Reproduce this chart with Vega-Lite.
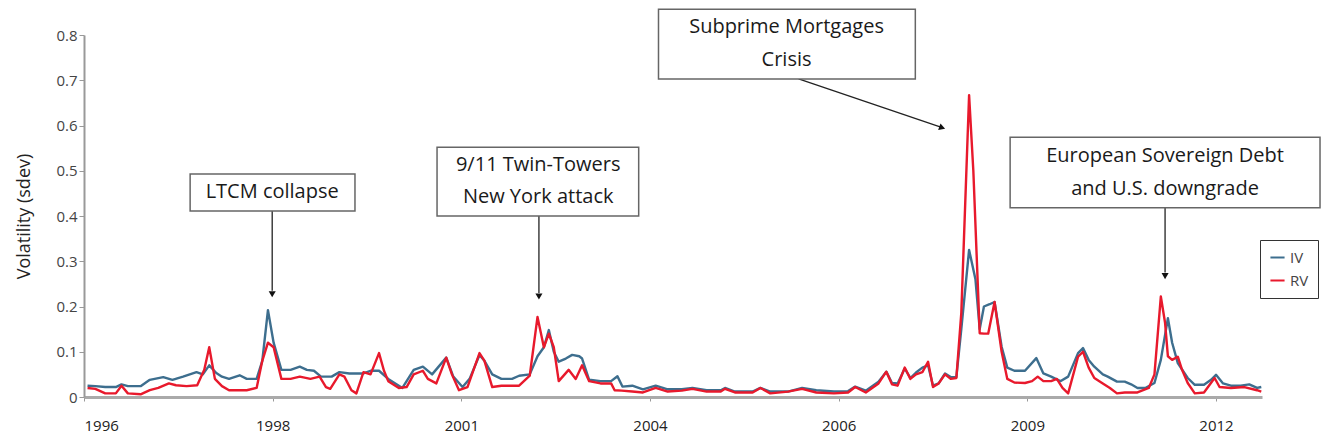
{
  "$schema": "https://vega.github.io/schema/vega-lite/v6.json",
  "width": 1178,
  "height": 362,
  "autosize": "none",
  "padding": {"left": 84, "top": 35, "right": 68, "bottom": 49},
  "background": "white",
  "config": {
    "view": {"stroke": null},
    "font": "Open Sans",
    "axis": {"grid": false, "labelFont": "Open Sans", "titleFont": "Open Sans"}
  },
  "datasets": {
    "vol": [
      {"x": 1996.05, "s": "IV", "y": 0.025}, {"x": 1996.16, "s": "IV", "y": 0.024}, {"x": 1996.30, "s": "IV", "y": 0.022}, {"x": 1996.45, "s": "IV", "y": 0.022}, {"x": 1996.53, "s": "IV", "y": 0.028}, {"x": 1996.62, "s": "IV", "y": 0.024}, {"x": 1996.80, "s": "IV", "y": 0.024}, {"x": 1996.93, "s": "IV", "y": 0.038}, {"x": 1997.12, "s": "IV", "y": 0.044}, {"x": 1997.25, "s": "IV", "y": 0.038}, {"x": 1997.40, "s": "IV", "y": 0.045}, {"x": 1997.59, "s": "IV", "y": 0.055}, {"x": 1997.68, "s": "IV", "y": 0.050}, {"x": 1997.77, "s": "IV", "y": 0.070}, {"x": 1997.87, "s": "IV", "y": 0.053}, {"x": 1997.95, "s": "IV", "y": 0.045}, {"x": 1998.05, "s": "IV", "y": 0.040}, {"x": 1998.20, "s": "IV", "y": 0.048}, {"x": 1998.30, "s": "IV", "y": 0.040}, {"x": 1998.44, "s": "IV", "y": 0.040}, {"x": 1998.52, "s": "IV", "y": 0.080}, {"x": 1998.60, "s": "IV", "y": 0.192}, {"x": 1998.68, "s": "IV", "y": 0.120}, {"x": 1998.79, "s": "IV", "y": 0.060}, {"x": 1998.92, "s": "IV", "y": 0.060}, {"x": 1999.05, "s": "IV", "y": 0.067}, {"x": 1999.15, "s": "IV", "y": 0.060}, {"x": 1999.25, "s": "IV", "y": 0.058}, {"x": 1999.35, "s": "IV", "y": 0.045}, {"x": 1999.50, "s": "IV", "y": 0.045}, {"x": 1999.61, "s": "IV", "y": 0.055}, {"x": 1999.75, "s": "IV", "y": 0.052}, {"x": 1999.95, "s": "IV", "y": 0.052}, {"x": 2000.05, "s": "IV", "y": 0.058}, {"x": 2000.17, "s": "IV", "y": 0.058}, {"x": 2000.30, "s": "IV", "y": 0.040}, {"x": 2000.40, "s": "IV", "y": 0.030}, {"x": 2000.50, "s": "IV", "y": 0.020}, {"x": 2000.66, "s": "IV", "y": 0.060}, {"x": 2000.79, "s": "IV", "y": 0.067}, {"x": 2000.92, "s": "IV", "y": 0.050}, {"x": 2001.12, "s": "IV", "y": 0.087}, {"x": 2001.22, "s": "IV", "y": 0.045}, {"x": 2001.35, "s": "IV", "y": 0.022}, {"x": 2001.45, "s": "IV", "y": 0.040}, {"x": 2001.59, "s": "IV", "y": 0.093}, {"x": 2001.66, "s": "IV", "y": 0.080}, {"x": 2001.77, "s": "IV", "y": 0.050}, {"x": 2001.90, "s": "IV", "y": 0.040}, {"x": 2002.05, "s": "IV", "y": 0.040}, {"x": 2002.15, "s": "IV", "y": 0.047}, {"x": 2002.30, "s": "IV", "y": 0.050}, {"x": 2002.41, "s": "IV", "y": 0.090}, {"x": 2002.50, "s": "IV", "y": 0.110}, {"x": 2002.57, "s": "IV", "y": 0.148}, {"x": 2002.64, "s": "IV", "y": 0.100}, {"x": 2002.71, "s": "IV", "y": 0.078}, {"x": 2002.81, "s": "IV", "y": 0.085}, {"x": 2002.90, "s": "IV", "y": 0.093}, {"x": 2003.00, "s": "IV", "y": 0.090}, {"x": 2003.04, "s": "IV", "y": 0.085}, {"x": 2003.14, "s": "IV", "y": 0.038}, {"x": 2003.30, "s": "IV", "y": 0.035}, {"x": 2003.45, "s": "IV", "y": 0.035}, {"x": 2003.54, "s": "IV", "y": 0.046}, {"x": 2003.61, "s": "IV", "y": 0.023}, {"x": 2003.75, "s": "IV", "y": 0.025}, {"x": 2003.90, "s": "IV", "y": 0.017}, {"x": 2004.08, "s": "IV", "y": 0.025}, {"x": 2004.25, "s": "IV", "y": 0.017}, {"x": 2004.45, "s": "IV", "y": 0.017}, {"x": 2004.60, "s": "IV", "y": 0.020}, {"x": 2004.80, "s": "IV", "y": 0.015}, {"x": 2005.00, "s": "IV", "y": 0.015}, {"x": 2005.06, "s": "IV", "y": 0.020}, {"x": 2005.20, "s": "IV", "y": 0.012}, {"x": 2005.45, "s": "IV", "y": 0.012}, {"x": 2005.56, "s": "IV", "y": 0.020}, {"x": 2005.70, "s": "IV", "y": 0.012}, {"x": 2005.95, "s": "IV", "y": 0.012}, {"x": 2006.15, "s": "IV", "y": 0.020}, {"x": 2006.35, "s": "IV", "y": 0.015}, {"x": 2006.60, "s": "IV", "y": 0.012}, {"x": 2006.80, "s": "IV", "y": 0.013}, {"x": 2006.90, "s": "IV", "y": 0.023}, {"x": 2007.05, "s": "IV", "y": 0.014}, {"x": 2007.23, "s": "IV", "y": 0.034}, {"x": 2007.34, "s": "IV", "y": 0.056}, {"x": 2007.42, "s": "IV", "y": 0.031}, {"x": 2007.50, "s": "IV", "y": 0.030}, {"x": 2007.60, "s": "IV", "y": 0.063}, {"x": 2007.68, "s": "IV", "y": 0.042}, {"x": 2007.76, "s": "IV", "y": 0.054}, {"x": 2007.85, "s": "IV", "y": 0.065}, {"x": 2007.93, "s": "IV", "y": 0.070}, {"x": 2008.00, "s": "IV", "y": 0.025}, {"x": 2008.08, "s": "IV", "y": 0.030}, {"x": 2008.17, "s": "IV", "y": 0.052}, {"x": 2008.25, "s": "IV", "y": 0.044}, {"x": 2008.33, "s": "IV", "y": 0.044}, {"x": 2008.40, "s": "IV", "y": 0.150}, {"x": 2008.51, "s": "IV", "y": 0.325}, {"x": 2008.60, "s": "IV", "y": 0.260}, {"x": 2008.66, "s": "IV", "y": 0.150}, {"x": 2008.72, "s": "IV", "y": 0.200}, {"x": 2008.80, "s": "IV", "y": 0.205}, {"x": 2008.87, "s": "IV", "y": 0.210}, {"x": 2008.97, "s": "IV", "y": 0.111}, {"x": 2009.05, "s": "IV", "y": 0.065}, {"x": 2009.15, "s": "IV", "y": 0.058}, {"x": 2009.30, "s": "IV", "y": 0.058}, {"x": 2009.46, "s": "IV", "y": 0.086}, {"x": 2009.56, "s": "IV", "y": 0.052}, {"x": 2009.67, "s": "IV", "y": 0.045}, {"x": 2009.80, "s": "IV", "y": 0.035}, {"x": 2009.91, "s": "IV", "y": 0.045}, {"x": 2010.05, "s": "IV", "y": 0.097}, {"x": 2010.12, "s": "IV", "y": 0.108}, {"x": 2010.20, "s": "IV", "y": 0.082}, {"x": 2010.28, "s": "IV", "y": 0.067}, {"x": 2010.40, "s": "IV", "y": 0.050}, {"x": 2010.47, "s": "IV", "y": 0.045}, {"x": 2010.60, "s": "IV", "y": 0.034}, {"x": 2010.71, "s": "IV", "y": 0.034}, {"x": 2010.80, "s": "IV", "y": 0.028}, {"x": 2010.89, "s": "IV", "y": 0.020}, {"x": 2011.00, "s": "IV", "y": 0.020}, {"x": 2011.13, "s": "IV", "y": 0.031}, {"x": 2011.22, "s": "IV", "y": 0.082}, {"x": 2011.32, "s": "IV", "y": 0.174}, {"x": 2011.38, "s": "IV", "y": 0.120}, {"x": 2011.46, "s": "IV", "y": 0.075}, {"x": 2011.60, "s": "IV", "y": 0.042}, {"x": 2011.70, "s": "IV", "y": 0.027}, {"x": 2011.83, "s": "IV", "y": 0.027}, {"x": 2011.93, "s": "IV", "y": 0.038}, {"x": 2012.00, "s": "IV", "y": 0.049}, {"x": 2012.10, "s": "IV", "y": 0.030}, {"x": 2012.21, "s": "IV", "y": 0.025}, {"x": 2012.35, "s": "IV", "y": 0.025}, {"x": 2012.47, "s": "IV", "y": 0.028}, {"x": 2012.58, "s": "IV", "y": 0.020}, {"x": 2012.64, "s": "IV", "y": 0.022},
      {"x": 1996.05, "s": "RV", "y": 0.020}, {"x": 1996.16, "s": "RV", "y": 0.018}, {"x": 1996.30, "s": "RV", "y": 0.008}, {"x": 1996.45, "s": "RV", "y": 0.008}, {"x": 1996.53, "s": "RV", "y": 0.025}, {"x": 1996.62, "s": "RV", "y": 0.008}, {"x": 1996.80, "s": "RV", "y": 0.006}, {"x": 1996.93, "s": "RV", "y": 0.015}, {"x": 1997.05, "s": "RV", "y": 0.020}, {"x": 1997.20, "s": "RV", "y": 0.030}, {"x": 1997.30, "s": "RV", "y": 0.026}, {"x": 1997.45, "s": "RV", "y": 0.024}, {"x": 1997.60, "s": "RV", "y": 0.026}, {"x": 1997.70, "s": "RV", "y": 0.060}, {"x": 1997.77, "s": "RV", "y": 0.110}, {"x": 1997.85, "s": "RV", "y": 0.040}, {"x": 1997.95, "s": "RV", "y": 0.024}, {"x": 1998.05, "s": "RV", "y": 0.015}, {"x": 1998.30, "s": "RV", "y": 0.015}, {"x": 1998.44, "s": "RV", "y": 0.020}, {"x": 1998.52, "s": "RV", "y": 0.080}, {"x": 1998.60, "s": "RV", "y": 0.120}, {"x": 1998.68, "s": "RV", "y": 0.110}, {"x": 1998.79, "s": "RV", "y": 0.040}, {"x": 1998.92, "s": "RV", "y": 0.040}, {"x": 1999.05, "s": "RV", "y": 0.045}, {"x": 1999.20, "s": "RV", "y": 0.040}, {"x": 1999.33, "s": "RV", "y": 0.045}, {"x": 1999.42, "s": "RV", "y": 0.022}, {"x": 1999.48, "s": "RV", "y": 0.018}, {"x": 1999.61, "s": "RV", "y": 0.050}, {"x": 1999.68, "s": "RV", "y": 0.045}, {"x": 1999.78, "s": "RV", "y": 0.015}, {"x": 1999.85, "s": "RV", "y": 0.008}, {"x": 1999.95, "s": "RV", "y": 0.055}, {"x": 2000.05, "s": "RV", "y": 0.050}, {"x": 2000.17, "s": "RV", "y": 0.097}, {"x": 2000.24, "s": "RV", "y": 0.058}, {"x": 2000.30, "s": "RV", "y": 0.035}, {"x": 2000.45, "s": "RV", "y": 0.020}, {"x": 2000.56, "s": "RV", "y": 0.022}, {"x": 2000.66, "s": "RV", "y": 0.050}, {"x": 2000.79, "s": "RV", "y": 0.058}, {"x": 2000.86, "s": "RV", "y": 0.040}, {"x": 2000.98, "s": "RV", "y": 0.030}, {"x": 2001.12, "s": "RV", "y": 0.087}, {"x": 2001.20, "s": "RV", "y": 0.050}, {"x": 2001.30, "s": "RV", "y": 0.015}, {"x": 2001.42, "s": "RV", "y": 0.022}, {"x": 2001.59, "s": "RV", "y": 0.097}, {"x": 2001.66, "s": "RV", "y": 0.080}, {"x": 2001.77, "s": "RV", "y": 0.022}, {"x": 2001.90, "s": "RV", "y": 0.025}, {"x": 2002.05, "s": "RV", "y": 0.025}, {"x": 2002.15, "s": "RV", "y": 0.025}, {"x": 2002.30, "s": "RV", "y": 0.047}, {"x": 2002.41, "s": "RV", "y": 0.177}, {"x": 2002.50, "s": "RV", "y": 0.110}, {"x": 2002.57, "s": "RV", "y": 0.140}, {"x": 2002.64, "s": "RV", "y": 0.110}, {"x": 2002.71, "s": "RV", "y": 0.035}, {"x": 2002.85, "s": "RV", "y": 0.060}, {"x": 2002.95, "s": "RV", "y": 0.040}, {"x": 2003.04, "s": "RV", "y": 0.070}, {"x": 2003.14, "s": "RV", "y": 0.035}, {"x": 2003.30, "s": "RV", "y": 0.030}, {"x": 2003.45, "s": "RV", "y": 0.030}, {"x": 2003.50, "s": "RV", "y": 0.015}, {"x": 2003.60, "s": "RV", "y": 0.014}, {"x": 2003.75, "s": "RV", "y": 0.012}, {"x": 2003.90, "s": "RV", "y": 0.010}, {"x": 2004.08, "s": "RV", "y": 0.020}, {"x": 2004.25, "s": "RV", "y": 0.012}, {"x": 2004.45, "s": "RV", "y": 0.014}, {"x": 2004.60, "s": "RV", "y": 0.018}, {"x": 2004.80, "s": "RV", "y": 0.012}, {"x": 2005.00, "s": "RV", "y": 0.012}, {"x": 2005.06, "s": "RV", "y": 0.018}, {"x": 2005.20, "s": "RV", "y": 0.010}, {"x": 2005.45, "s": "RV", "y": 0.010}, {"x": 2005.56, "s": "RV", "y": 0.020}, {"x": 2005.70, "s": "RV", "y": 0.008}, {"x": 2005.95, "s": "RV", "y": 0.012}, {"x": 2006.15, "s": "RV", "y": 0.018}, {"x": 2006.35, "s": "RV", "y": 0.010}, {"x": 2006.60, "s": "RV", "y": 0.008}, {"x": 2006.80, "s": "RV", "y": 0.010}, {"x": 2006.90, "s": "RV", "y": 0.022}, {"x": 2007.05, "s": "RV", "y": 0.010}, {"x": 2007.23, "s": "RV", "y": 0.030}, {"x": 2007.34, "s": "RV", "y": 0.056}, {"x": 2007.42, "s": "RV", "y": 0.028}, {"x": 2007.50, "s": "RV", "y": 0.025}, {"x": 2007.60, "s": "RV", "y": 0.065}, {"x": 2007.68, "s": "RV", "y": 0.040}, {"x": 2007.76, "s": "RV", "y": 0.050}, {"x": 2007.85, "s": "RV", "y": 0.055}, {"x": 2007.93, "s": "RV", "y": 0.078}, {"x": 2008.00, "s": "RV", "y": 0.022}, {"x": 2008.08, "s": "RV", "y": 0.030}, {"x": 2008.17, "s": "RV", "y": 0.050}, {"x": 2008.25, "s": "RV", "y": 0.040}, {"x": 2008.33, "s": "RV", "y": 0.042}, {"x": 2008.40, "s": "RV", "y": 0.186}, {"x": 2008.51, "s": "RV", "y": 0.667}, {"x": 2008.57, "s": "RV", "y": 0.500}, {"x": 2008.66, "s": "RV", "y": 0.141}, {"x": 2008.72, "s": "RV", "y": 0.140}, {"x": 2008.78, "s": "RV", "y": 0.140}, {"x": 2008.87, "s": "RV", "y": 0.210}, {"x": 2008.97, "s": "RV", "y": 0.100}, {"x": 2009.05, "s": "RV", "y": 0.040}, {"x": 2009.15, "s": "RV", "y": 0.032}, {"x": 2009.30, "s": "RV", "y": 0.031}, {"x": 2009.40, "s": "RV", "y": 0.035}, {"x": 2009.48, "s": "RV", "y": 0.045}, {"x": 2009.56, "s": "RV", "y": 0.035}, {"x": 2009.67, "s": "RV", "y": 0.035}, {"x": 2009.75, "s": "RV", "y": 0.040}, {"x": 2009.83, "s": "RV", "y": 0.020}, {"x": 2009.91, "s": "RV", "y": 0.008}, {"x": 2010.00, "s": "RV", "y": 0.060}, {"x": 2010.05, "s": "RV", "y": 0.089}, {"x": 2010.12, "s": "RV", "y": 0.100}, {"x": 2010.20, "s": "RV", "y": 0.065}, {"x": 2010.28, "s": "RV", "y": 0.042}, {"x": 2010.40, "s": "RV", "y": 0.030}, {"x": 2010.50, "s": "RV", "y": 0.020}, {"x": 2010.60, "s": "RV", "y": 0.008}, {"x": 2010.71, "s": "RV", "y": 0.010}, {"x": 2010.89, "s": "RV", "y": 0.010}, {"x": 2011.05, "s": "RV", "y": 0.020}, {"x": 2011.13, "s": "RV", "y": 0.050}, {"x": 2011.22, "s": "RV", "y": 0.222}, {"x": 2011.28, "s": "RV", "y": 0.164}, {"x": 2011.32, "s": "RV", "y": 0.090}, {"x": 2011.38, "s": "RV", "y": 0.082}, {"x": 2011.46, "s": "RV", "y": 0.089}, {"x": 2011.52, "s": "RV", "y": 0.060}, {"x": 2011.60, "s": "RV", "y": 0.031}, {"x": 2011.70, "s": "RV", "y": 0.008}, {"x": 2011.83, "s": "RV", "y": 0.010}, {"x": 2011.98, "s": "RV", "y": 0.042}, {"x": 2012.05, "s": "RV", "y": 0.022}, {"x": 2012.21, "s": "RV", "y": 0.020}, {"x": 2012.40, "s": "RV", "y": 0.022}, {"x": 2012.58, "s": "RV", "y": 0.015}, {"x": 2012.64, "s": "RV", "y": 0.012}
    ],
    "boxes": [
      {"x": 1997.50, "x2": 1999.83, "y": 0.493, "y2": 0.411},
      {"x": 2000.99, "x2": 2003.84, "y": 0.552, "y2": 0.400},
      {"x": 2004.12, "x2": 2007.75, "y": 0.857, "y2": 0.703},
      {"x": 2009.09, "x2": 2013.47, "y": 0.574, "y2": 0.418}
    ],
    "labels": [
      {"x": 1998.66, "y": 0.453, "t": "LTCM collapse"},
      {"x": 2002.42, "y": 0.512, "t": "9/11 Twin-Towers"},
      {"x": 2002.42, "y": 0.442, "t": "New York attack"},
      {"x": 2005.93, "y": 0.817, "t": "Subprime Mortgages"},
      {"x": 2005.93, "y": 0.745, "t": "Crisis"},
      {"x": 2011.28, "y": 0.533, "t": "European Sovereign Debt"},
      {"x": 2011.28, "y": 0.460, "t": "and U.S. downgrade"}
    ],
    "arrows": [
      {"x": 1998.66, "y": 0.411, "x2": 1998.66, "y2": 0.235},
      {"x": 2002.43, "y": 0.400, "x2": 2002.43, "y2": 0.23},
      {"x": 2006.10, "y": 0.703, "x2": 2008.10, "y2": 0.597},
      {"x": 2011.28, "y": 0.418, "x2": 2011.28, "y2": 0.275}
    ],
    "heads": [
      {"x": 1998.66, "y": 0.227},
      {"x": 2002.43, "y": 0.222},
      {"x": 2011.28, "y": 0.267}
    ],
    "diag": [
      {"x": 2008.13, "y": 0.595}
    ]
  },
  "layer": [
    {
      "data": {"name": "vol"},
      "mark": {"type": "line", "strokeWidth": 2.4, "interpolate": "linear", "strokeJoin": "round"},
      "encoding": {
        "x": {"field": "x", "type": "quantitative", "scale": {"domain": [1996, 2012.65], "nice": false, "zero": false},
          "axis": {"title": null, "values": [1996, 1998.6667, 2001.3333, 2004, 2006.6667, 2009.3333, 2012], "labelExpr": "'' + floor(datum.value)", "labelFontSize": 15, "labelColor": "#222", "labelPadding": 17, "tickSize": 4, "tickColor": "#999", "domainColor": "#aaa", "domainWidth": 3}},
        "y": {"field": "y", "type": "quantitative", "scale": {"domain": [0, 0.8], "nice": false},
          "axis": {"title": "Volatility (sdev)", "values": [0, 0.1, 0.2, 0.3, 0.4, 0.5, 0.6, 0.7, 0.8], "labelExpr": "datum.value == 0 ? '0' : format(datum.value, '.1f')", "labelFontSize": 15, "labelColor": "#444", "tickSize": 5, "tickColor": "#999", "domainColor": "#999", "domainWidth": 2, "titleFontSize": 18, "titleFontWeight": "normal", "titleColor": "#222", "titlePadding": 22}},
        "color": {"field": "s", "type": "nominal", "scale": {"domain": ["IV", "RV"], "range": ["#3d6e8e", "#e8192c"]},
          "legend": {"title": null, "orient": "none", "legendX": 1176, "legendY": 205, "strokeColor": "#333", "padding": 9, "symbolType": "stroke", "symbolStrokeWidth": 2, "symbolSize": 200, "labelFontSize": 15, "labelColor": "#444", "rowPadding": 6, "fillColor": "white"}}
      }
    },
    {
      "data": {"name": "arrows"},
      "mark": {"type": "rule", "color": "#222", "strokeWidth": 1.3},
      "encoding": {
        "x": {"field": "x", "type": "quantitative", "title": null},
        "y": {"field": "y", "type": "quantitative", "title": "Volatility (sdev)"},
        "x2": {"field": "x2"},
        "y2": {"field": "y2"}
      }
    },
    {
      "data": {"name": "heads"},
      "mark": {"type": "point", "shape": "triangle-down", "filled": true, "color": "#111", "size": 50, "opacity": 1},
      "encoding": {
        "x": {"field": "x", "type": "quantitative", "title": null},
        "y": {"field": "y", "type": "quantitative", "title": "Volatility (sdev)"}
      }
    },
    {
      "data": {"name": "diag"},
      "mark": {"type": "point", "shape": "triangle-up", "angle": 109, "filled": true, "color": "#111", "size": 50, "opacity": 1},
      "encoding": {
        "x": {"field": "x", "type": "quantitative", "title": null},
        "y": {"field": "y", "type": "quantitative", "title": "Volatility (sdev)"}
      }
    },
    {
      "data": {"name": "boxes"},
      "mark": {"type": "rect", "fill": "white", "stroke": "#666", "strokeWidth": 1.5},
      "encoding": {
        "x": {"field": "x", "type": "quantitative", "title": null},
        "x2": {"field": "x2"},
        "y": {"field": "y", "type": "quantitative", "title": "Volatility (sdev)"},
        "y2": {"field": "y2"}
      }
    },
    {
      "data": {"name": "labels"},
      "mark": {"type": "text", "font": "Open Sans", "fontSize": 20, "color": "#1a1a1a", "align": "center", "baseline": "middle"},
      "encoding": {
        "x": {"field": "x", "type": "quantitative", "title": null},
        "y": {"field": "y", "type": "quantitative", "title": "Volatility (sdev)"},
        "text": {"field": "t"}
      }
    }
  ]
}
